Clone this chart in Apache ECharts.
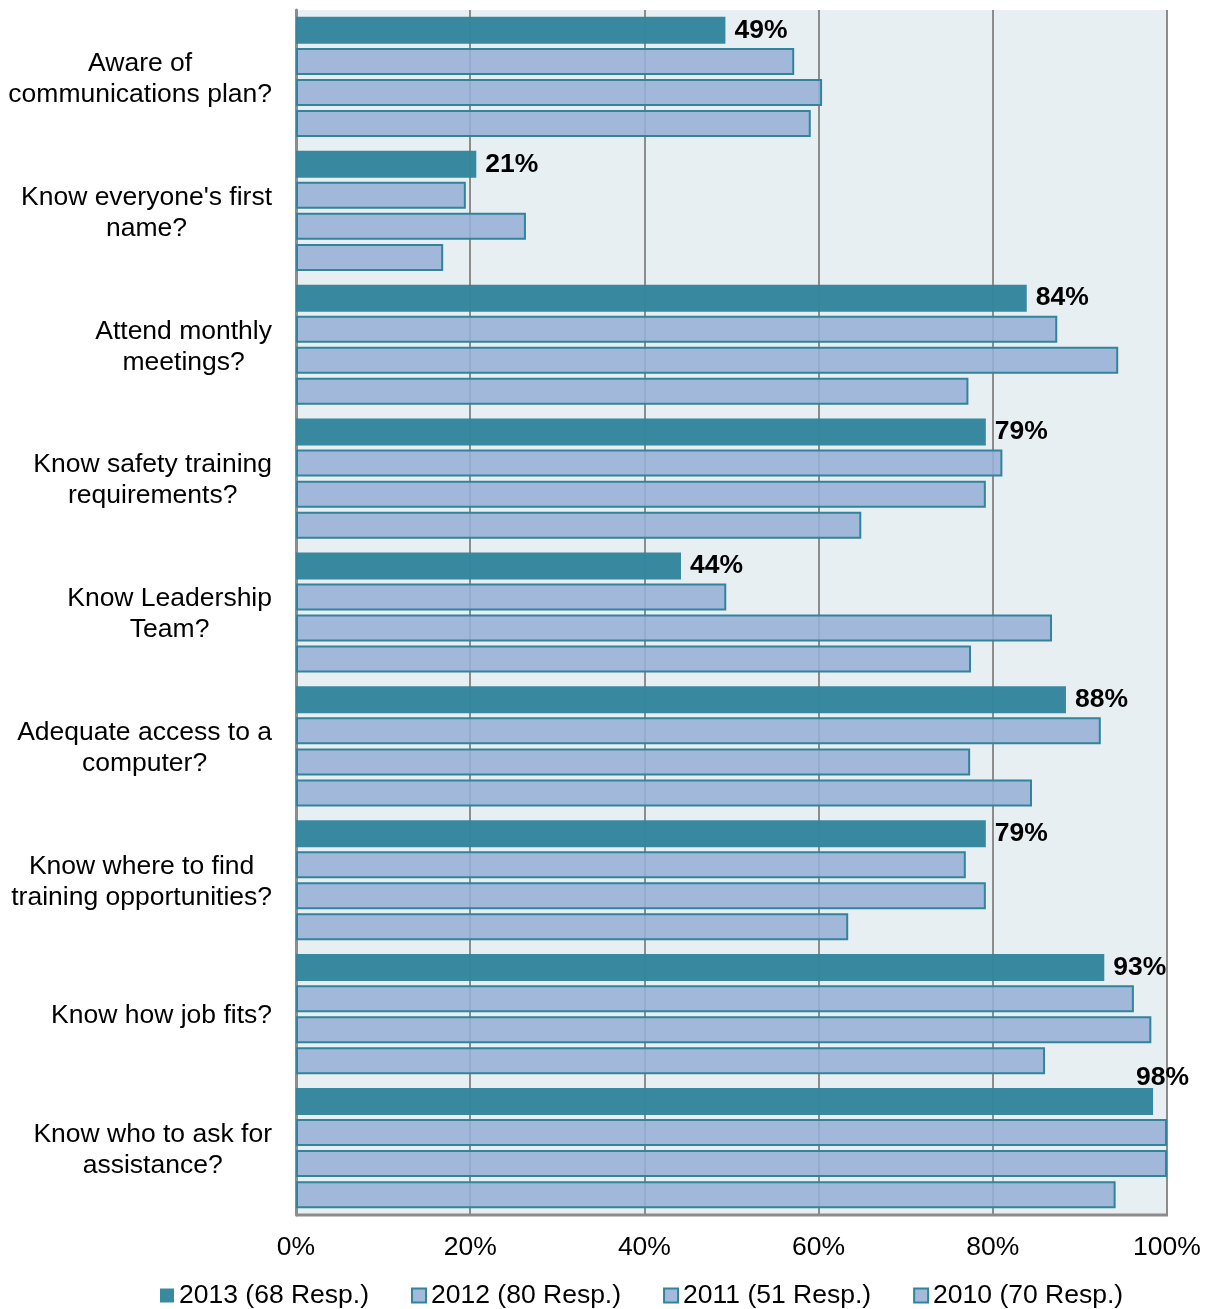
<!DOCTYPE html>
<html>
<head>
<meta charset="utf-8">
<script src="https://cdn.jsdelivr.net/npm/echarts@6/dist/echarts.min.js"></script>
<style>
html,body{margin:0;padding:0;background:#fff;}
#c{width:1210px;height:1309px;}
</style>
</head>
<body>
<div id="c"></div>
<script>
var categories = [
  "Aware of\ncommunications plan?",
  "Know everyone's first\nname?",
  "Attend monthly\nmeetings?",
  "Know safety training\nrequirements?",
  "Know Leadership\nTeam?",
  "Adequate access to a\ncomputer?",
  "Know where to find\ntraining opportunities?",
  "Know how job fits?",
  "Know who to ask for\nassistance?"
];
var seriesNames = ["2013 (68 Resp.)", "2012 (80 Resp.)", "2011 (51 Resp.)", "2010 (70 Resp.)"];
var v2013 = [49.3, 20.7, 83.9, 79.2, 44.2, 88.4, 79.2, 92.8, 98.4];
var v2012 = [57.2, 19.5, 87.4, 81.1, 49.4, 92.4, 76.9, 96.2, 100];
var v2011 = [60.4, 26.4, 94.4, 79.2, 86.8, 77.4, 79.2, 98.2, 100];
var v2010 = [59.1, 16.9, 77.2, 64.9, 77.5, 84.5, 63.4, 86.0, 94.1];
var xTicks = [0, 20, 40, 60, 80, 100];

var FONT = "Liberation Sans, Arial, sans-serif";
var FS = 26.5;
var dark = "#31849b";
var light = "rgba(150,176,214,0.88)";

function lightSeries(name, data) {
  return {
    name: name, type: 'bar', data: data,
    barWidth: 27,
    itemStyle: { color: light, borderColor: dark, borderWidth: 2 }
  };
}

var d2013 = v2013.map(function (v, i) {
  if (i === v2013.length - 1) {
    return { value: v, label: { offset: [-26, -24] } };
  }
  return v;
});

var chart = echarts.init(document.getElementById('c'), null, { renderer: 'canvas' });
chart.setOption({
  animation: false,
  backgroundColor: '#ffffff',
  textStyle: { fontFamily: FONT },
  grid: {
    left: 296, right: 43, top: 10, bottom: 94,
    show: true, backgroundColor: '#e8eff3', borderWidth: 0
  },
  legend: {
    data: seriesNames,
    top: 1277,
    left: 155,
    itemWidth: 14, itemHeight: 14, itemGap: 42,
    icon: 'rect',
    textStyle: { fontSize: FS, color: '#000', fontFamily: FONT }
  },
  xAxis: {
    type: 'value', min: 0, max: 100, interval: 20,
    axisLine: { show: false },
    axisTick: { show: false },
    axisLabel: {
      fontSize: FS, color: '#000', fontFamily: FONT, margin: 19,
      formatter: function (v) { return xTicks.indexOf(v) >= 0 ? v + '%' : ''; }
    },
    splitLine: { show: true, lineStyle: { color: '#8c8c8c', width: 2 } }
  },
  yAxis: {
    type: 'category', data: categories, inverse: true,
    axisLine: { show: true, lineStyle: { color: '#8c8c8c', width: 3 } },
    axisTick: { show: false },
    splitLine: { show: false },
    axisLabel: {
      fontSize: FS, color: '#000', fontFamily: FONT, margin: 24, lineHeight: 31,
      align: 'right',
      formatter: function (v) {
        return v.split('\n').map(function (s) { return '{c|' + s + '}'; }).join('\n');
      },
      rich: { c: { align: 'center', fontSize: FS, lineHeight: 31, fontFamily: FONT, color: '#000', padding: [4, 0, 0, 0] } }
    }
  },
  series: [
    {
      name: seriesNames[0], type: 'bar', data: d2013,
      barWidth: 27, barGap: '15%',
      itemStyle: { color: 'rgba(49,132,155,0.96)', borderColor: dark, borderWidth: 0 },
      label: {
        show: true, position: 'right', distance: 9,
        fontSize: FS, fontWeight: 'bold', color: '#000', fontFamily: FONT,
        formatter: function (p) { return Math.round(p.value) + '%'; }
      }
    },
    lightSeries(seriesNames[1], v2012),
    lightSeries(seriesNames[2], v2011),
    lightSeries(seriesNames[3], v2010)
  ]
});

chart.setOption({
  graphic: [{
    type: 'line', z: 10,
    shape: { x1: 296, y1: 1215, x2: 1168, y2: 1215 },
    style: { stroke: '#8c8c8c', lineWidth: 3 }
  }]
});
</script>
</body>
</html>
